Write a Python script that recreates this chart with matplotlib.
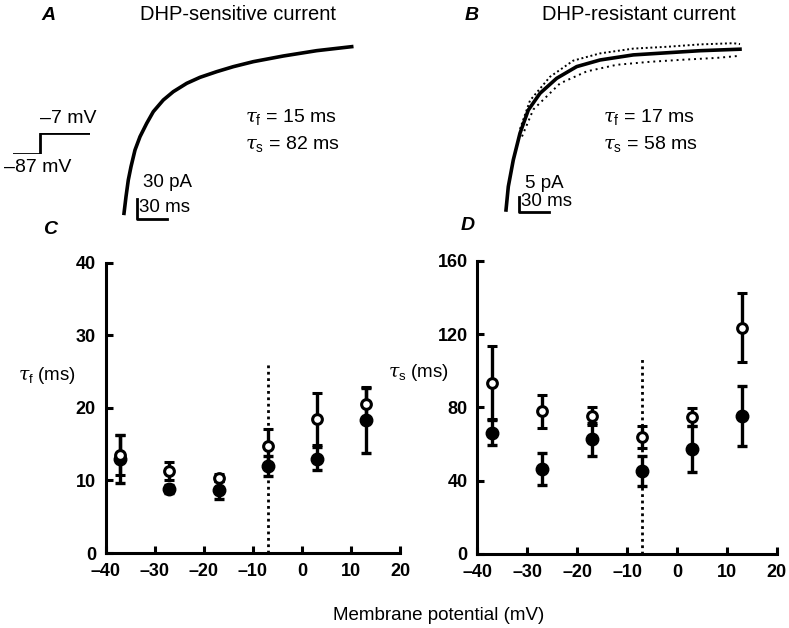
import matplotlib
matplotlib.use('Agg')
import matplotlib.pyplot as plt

plt.rcParams['font.family'] = ['Liberation Sans', 'DejaVu Sans']
plt.rcParams['mathtext.fontset'] = 'custom'
plt.rcParams['mathtext.rm'] = 'Liberation Sans'
plt.rcParams['mathtext.it'] = 'DejaVu Serif:italic'

# --- panel A: DHP-sensitive tail current (time ms, current pA)
a_time = [0, 2, 4.3, 7, 11, 16, 22.7, 29.3, 39.3, 49.3, 62.7, 76, 92.7, 109.3, 129.3, 159.3, 192.7, 227.7]
a_curr = [-260, -235, -210, -190, -165, -145, -125, -107.5, -90, -77.5, -65, -56, -47.5, -40, -32.5, -24, -16, -10]

# voltage protocol
step_t = [0, 27.3, 27.3, 77.3]
step_v = [-87, -87, -7, -7]

# --- panel B: DHP-resistant current, fit and edges of the noisy record
b_time = [0, 2.3, 7.3, 14, 22.3, 34, 50.7, 70.7, 94, 127.3, 160.7, 194, 234]
b_curr = [-55, -47.2, -38.3, -29.4, -21.7, -16.1, -11.1, -7.2, -5, -3.3, -2.6, -1.9, -1.4]
b_hi_time = [14, 24, 44, 67.3, 94, 127.3, 160.7, 194, 227.3, 234]
b_hi_curr = [-28, -18.5, -10.6, -5.2, -2.8, -1.2, -0.6, 0.2, 0.6, 0.3]
b_lo_time = [16, 27.3, 54, 80.7, 110.7, 144, 177.3, 210.7, 234]
b_lo_curr = [-30.5, -21.5, -12.8, -8.8, -6.6, -5.6, -4.9, -4.3, -3.6]

# --- panels C and D: time constants vs membrane potential
potential = [-37, -27, -17, -7, 3, 13]
tf_open = [13.5, 11.3, 10.4, 14.7, 18.5, 20.5]
tf_open_err = [2.8, 1.3, 0.5, 2.4, 3.6, 2.4]
tf_fill = [13.0, 8.8, 8.7, 12.0, 13.0, 18.3]
tf_fill_err = [3.3, 0.6, 1.2, 1.4, 1.6, 4.5]

ts_open = [93.5, 78, 75.3, 64, 74.9, 123.5]
ts_open_err = [20, 9, 5, 6, 5, 18.7]
ts_fill = [66.2, 46.4, 62.7, 45.3, 57.1, 75.5]
ts_fill_err = [7, 8.5, 9, 8, 12.5, 16.4]

x_ticks = [-40, -30, -20, -10, 0, 10, 20]
x_labels = ['\u201340', '\u201330', '\u201320', '\u201310', '0', '10', '20']
c_ticks = [0, 10, 20, 30, 40]
d_ticks = [0, 40, 80, 120, 160]
dotted_at = -7

W, H = 789, 628


def fx(x):
    return x / W


def fy(y):
    return 1 - y / H


fig = plt.figure(figsize=(7.89, 6.28), dpi=100)

# trace A
axA = fig.add_axes([0, fy(230), fx(400), 200 / H])
axA.plot(a_time, a_curr, color='black', lw=2.6, solid_joinstyle='round')
axA.plot([13, 13, 43], [-239, -269, -269], color='black', lw=2)
axA.set_xlim(-124, 276)
axA.set_ylim(-285, 15)
axA.axis('off')

axS = fig.add_axes([fx(12.7), fy(154), fx(77.3), 20.7 / H])
axS.plot(step_t, step_v, color='black', lw=2)
axS.set_xlim(0, 77.3)
axS.set_ylim(-87, -7)
axS.axis('off')

# trace B
axB = fig.add_axes([fx(420), fy(230), fx(369), 200 / H])
axB.plot(b_hi_time, b_hi_curr, color='black', lw=1.4, ls=(0, (1, 1.4)))
axB.plot(b_lo_time, b_lo_curr, color='black', lw=1.4, ls=(0, (1, 2.0)))
axB.plot(b_time, b_curr, color='black', lw=2.6, solid_joinstyle='round')
axB.plot([13.3, 13.3, 43.3], [-50.6, -55.6, -55.6], color='black', lw=2)
axB.set_xlim(-86, 283)
axB.set_ylim(-61.67, 5)
axB.axis('off')

# texts of top panels
fig.text(fx(48), fy(15), 'A', fontsize=14, fontweight='bold', style='italic', ha='center', va='center')
fig.text(fx(238), fy(15), 'DHP-sensitive current', fontsize=14.5, ha='center', va='center')
fig.text(fx(472), fy(15), 'B', fontsize=14, fontweight='bold', style='italic', ha='center', va='center')
fig.text(fx(639), fy(15), 'DHP-resistant current', fontsize=14.5, ha='center', va='center')
fig.text(fx(245), fy(117), r'$\mathit{\tau}_\mathrm{f}$ = 15 ms', fontsize=14, va='center')
fig.text(fx(245), fy(144), r'$\mathit{\tau}_\mathrm{s}$ = 82 ms', fontsize=14, va='center')
fig.text(fx(603), fy(117), r'$\mathit{\tau}_\mathrm{f}$ = 17 ms', fontsize=14, va='center')
fig.text(fx(603), fy(144), r'$\mathit{\tau}_\mathrm{s}$ = 58 ms', fontsize=14, va='center')
fig.text(fx(97), fy(118), '\u20137 mV', fontsize=14, ha='right', va='center')
fig.text(fx(4), fy(168), '\u201387 mV', fontsize=14, ha='left', va='center')
fig.text(fx(143), fy(182), '30 pA', fontsize=13.5, va='center')
fig.text(fx(139), fy(207), '30 ms', fontsize=13.5, va='center')
fig.text(fx(525), fy(183), '5 pA', fontsize=13.5, va='center')
fig.text(fx(521), fy(201), '30 ms', fontsize=13.5, va='center')
fig.text(fx(50), fy(230), 'C', fontsize=14, fontweight='bold', style='italic', ha='center', va='center')
fig.text(fx(468), fy(226), 'D', fontsize=14, fontweight='bold', style='italic', ha='center', va='center')


def style_axes(ax, yticks, ylim, ylabel, lx, ly):
    for s in ['top', 'right']:
        ax.spines[s].set_visible(False)
    for s in ['left', 'bottom']:
        ax.spines[s].set_linewidth(2.2)
    ax.set_xlim(-40, 20)
    ax.set_ylim(*ylim)
    ax.set_xticks(x_ticks)
    ax.set_xticklabels(x_labels)
    ax.set_yticks(yticks)
    ax.tick_params(direction='in', length=5, width=2.2, labelsize=13, pad=7)
    for lab in ax.get_xticklabels() + ax.get_yticklabels():
        lab.set_fontweight('bold')
    ax.set_ylabel(ylabel, rotation=0, fontsize=13.5, ha='center', va='center')
    ax.yaxis.set_label_coords(lx, ly)


def draw_points(ax, y_open, e_open, y_fill, e_fill, top):
    ax.plot([dotted_at, dotted_at], [0, top], color='black', lw=2, ls=(0, (1, 1.3)), zorder=1)
    ax.errorbar(potential, y_fill, yerr=e_fill, fmt='o', color='black', ms=9,
                elinewidth=2.4, capsize=3.5, capthick=2.4, zorder=3, clip_on=False)
    ax.errorbar(potential, y_open, yerr=e_open, fmt='o', color='black', mfc='white',
                mec='black', mew=2.2, ms=7, elinewidth=2.4, capsize=3.5, capthick=2.4,
                zorder=4, clip_on=False)


axC = fig.add_axes([fx(105.7), 75 / H, 294.3 / W, 290.3 / H])
draw_points(axC, tf_open, tf_open_err, tf_fill, tf_fill_err, 26.1)
style_axes(axC, c_ticks, (0, 40), r'$\mathit{\tau}_\mathrm{f}$ (ms)', -0.2, 0.61)

axD = fig.add_axes([fx(477.3), 74 / H, 299.4 / W, 293.3 / H])
draw_points(axD, ts_open, ts_open_err, ts_fill, ts_fill_err, 108)
style_axes(axD, d_ticks, (0, 160), r'$\mathit{\tau}_\mathrm{s}$ (ms)', -0.195, 0.62)

fig.text(fx(439), fy(615), 'Membrane potential (mV)', fontsize=13.5, ha='center', va='center')

fig.savefig('out.png', dpi=100)
